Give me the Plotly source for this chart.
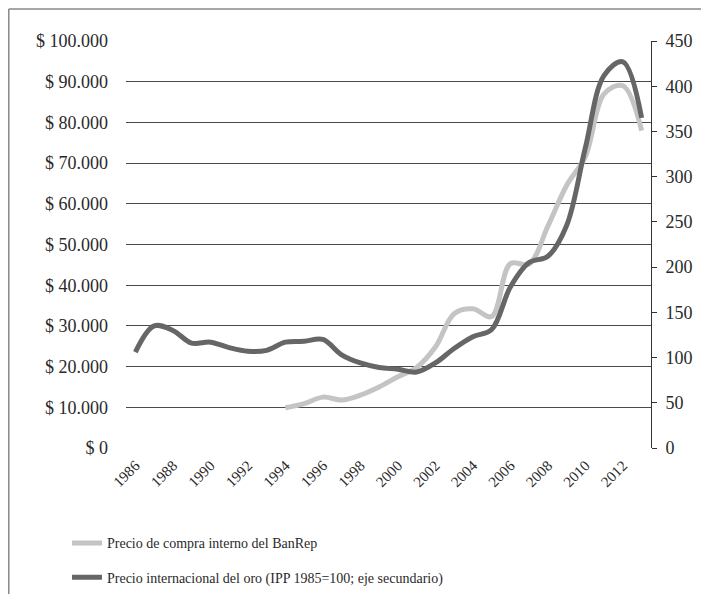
import plotly.graph_objects as go

years = list(range(1986, 2014))
banrep_price = [None] * 8 + [9900, 10900, 12500, 11800, 13000, 15000, 17500, 19800,
                             24800, 33000, 34200, 32300, 45300, 45200, 54500, 64500,
                             71600, 87000, 89000, 78000]
gold_index = [106, 135, 130, 116, 117, 111, 107, 108, 117, 118, 120, 103, 94, 89,
              87, 84, 94, 110, 123, 131, 178, 205, 212, 246, 332, 412, 427, 365]

left_tickvals = list(range(0, 100001, 10000))
left_ticktext = ["$ 0", "$ 10.000", "$ 20.000", "$ 30.000", "$ 40.000", "$ 50.000",
                 "$ 60.000", "$ 70.000", "$ 80.000", "$ 90.000", "$ 100.000"]
right_tickvals = list(range(0, 451, 50))
x_tickvals = list(range(1986, 2013, 2))

name_banrep = "Precio de compra interno del BanRep"
name_gold = "Precio internacional del oro (IPP 1985=100; eje secundario)"

FONT = "Liberation Serif"

fig = go.Figure()
fig.add_trace(go.Scatter(x=years, y=banrep_price, mode="lines", name=name_banrep,
                         line=dict(color="#c4c4c4", width=5, shape="spline", smoothing=1.0),
                         legendgroup="a", connectgaps=False))
fig.add_trace(go.Scatter(x=years, y=gold_index, mode="lines", name=name_gold,
                         line=dict(color="#666666", width=5, shape="spline", smoothing=1.0),
                         legendgroup="b", yaxis="y2"))

fig.update_layout(
    width=709, height=594,
    margin=dict(l=118, r=66, t=33, b=154),
    paper_bgcolor="white", plot_bgcolor="white",
    font=dict(family=FONT, size=15, color="#2a2a2a"),
    xaxis=dict(range=[1985.5, 2013.5], tickvals=x_tickvals, tickangle=-45,
               showgrid=False, zeroline=False, showline=False, ticks="",
               tickfont=dict(size=15), automargin=False, ticklabelstandoff=5),
    yaxis=dict(range=[0, 100000], tickvals=left_tickvals, ticktext=left_ticktext,
               showgrid=True, gridcolor="#4a4a4a", gridwidth=1, zeroline=False,
               showline=False, ticks="", ticklabelstandoff=17, automargin=False,
               tickfont=dict(size=18)),
    yaxis2=dict(range=[0, 450], tickvals=right_tickvals, overlaying="y", side="right",
                showgrid=False, zeroline=False, showline=True, linecolor="#333333",
                linewidth=1, ticks="outside", ticklen=5, tickcolor="#333333",
                ticklabelstandoff=5, automargin=False, tickfont=dict(size=18)),
    showlegend=True,
    legend=dict(orientation="v", xref="paper", yref="container",
                x=-0.1124, xanchor="left", y=0.1256, yanchor="top",
                tracegroupgap=13, font=dict(size=14, color="#2a2a2a"),
                bgcolor="rgba(0,0,0,0)"),
    shapes=[
        dict(type="line", xref="paper", yref="paper", x0=-0.2233, x1=1.2, y0=1.0786, y1=1.0786,
             line=dict(color="#888888", width=1.5)),
        dict(type="line", xref="paper", yref="paper", x0=-0.2233, x1=-0.2233, y0=1.0786, y1=-0.4,
             line=dict(color="#888888", width=1.5)),
    ],
)

fig.write_html("out.html")
